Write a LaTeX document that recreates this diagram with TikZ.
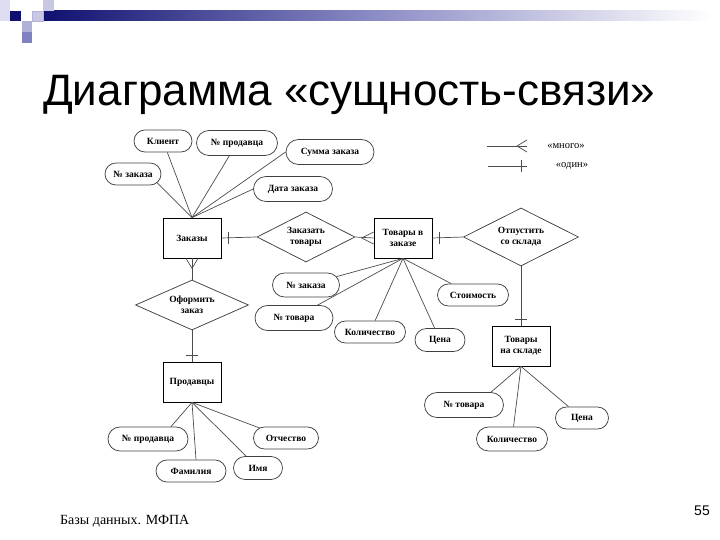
\documentclass[tikz,border=0pt]{standalone}
\usepackage{fontspec}
\setmainfont{Liberation Serif}
\newfontfamily\arialf{Liberation Sans}
\usetikzlibrary{shapes.geometric,shapes.misc}
\definecolor{navy}{RGB}{16,16,112}
\definecolor{lav1}{RGB}{176,176,216}
\definecolor{lav2}{RGB}{128,128,192}
\definecolor{lav3}{RGB}{200,200,228}
\definecolor{lav4}{RGB}{222,222,240}
\begin{document}
\begin{tikzpicture}[x=1pt,y=-1pt,
  lbl/.style={font=\bfseries\fontsize{9.5}{11}\selectfont},
  ent/.style={lbl,draw=black,line width=0.75pt,minimum width=58pt,minimum height=40pt,inner sep=1pt,align=center},
  attr/.style={lbl,rounded rectangle,draw=black!75,line width=0.75pt,minimum height=23pt,inner sep=1pt},
  rel/.style={lbl,diamond,draw=black!75,line width=0.75pt,inner sep=0pt,aspect=2,align=center},
  conn/.style={draw=black!70,line width=0.7pt}
]
\useasboundingbox (0,0) rectangle (720,540);
% header decoration
\shade[left color=navy,right color=white,middle color=lav2!90] (43,11) rectangle (712,21);
\fill[lav4] (0,0) rectangle (10,21);
\fill[navy] (10,11) rectangle (21,21);
\fill[white] (21,0) rectangle (32,11);
\fill[lav3,draw=lav2!60] (32,11) rectangle (43,21);
\fill[lav3] (43,0) rectangle (54,11);
\fill[lav1] (22,21) rectangle (32,32);
\fill[lav2] (22,32) rectangle (32,43);
% title
\node[anchor=base west,inner sep=0pt,font=\arialf\fontsize{44}{50}\selectfont] (title) at (43,106) {Диаграмма «сущность-связи»};
% footer
\node[anchor=base west,inner sep=0pt,font=\fontsize{14}{16}\selectfont] (foot) at (60,524) {Базы данных. МФПА};
\node[anchor=base east,inner sep=0pt,font=\arialf\fontsize{14}{16}\selectfont] (pnum) at (710,515) {55};

% entities
\node[ent] (zak) at (192,238) {Заказы};
\node[ent] (tvz) at (403,238) {Товары в\\заказе};
\node[ent] (prod) at (192,382) {Продавцы};
\node[ent] (tns) at (521,346) {Товары\\на складе};

% relationships
\node[rel,minimum width=98pt,minimum height=50pt] (zt) at (306,237) {Заказать\\товары};
\node[rel,minimum width=115pt,minimum height=58pt] (os) at (521,237) {Отпустить\\со склада};
\node[rel,minimum width=113pt,minimum height=50pt] (oz) at (192,305) {Оформить\\заказ};

% attributes
\node[attr,minimum width=60pt,minimum height=22pt] (klient) at (163,141) {Клиент};
\node[attr,minimum width=83pt,minimum height=25pt] (np1) at (237,143) {№ продавца};
\node[attr,minimum width=90pt,minimum height=25pt] (summa) at (330,152) {Сумма заказа};
\node[attr,minimum width=58pt,minimum height=22pt] (nz1) at (133,174) {№ заказа};
\node[attr,minimum width=81pt,minimum height=25pt] (data) at (293,189) {Дата заказа};
\node[attr,minimum width=69pt,minimum height=24pt] (nz2) at (306,285) {№ заказа};
\node[attr,minimum width=80pt,minimum height=25pt] (nt2) at (294,318) {№ товара};
\node[attr,minimum width=73pt,minimum height=22pt] (kol2) at (370,332) {Количество};
\node[attr,minimum width=52pt,minimum height=23pt] (cena2) at (440,340) {Цена};
\node[attr,minimum width=73pt,minimum height=22pt] (stoim) at (473,295) {Стоимость};
\node[attr,minimum width=81pt,minimum height=25pt] (nt3) at (464,405) {№ товара};
\node[attr,minimum width=55pt,minimum height=22pt] (cena3) at (582,418) {Цена};
\node[attr,minimum width=73pt,minimum height=24pt] (kol3) at (512,439) {Количество};
\node[attr,minimum width=82pt,minimum height=24pt] (np2) at (148,439) {№ продавца};
\node[attr,minimum width=67pt,minimum height=22pt] (otch) at (286,438) {Отчество};
\node[attr,minimum width=72pt,minimum height=22pt] (fam) at (191,471) {Фамилия};
\node[attr,minimum width=51pt,minimum height=23pt] (imya) at (258,468) {Имя};

% attribute links
\draw[conn] (zak.north) -- (klient);
\draw[conn] (zak.north) -- (np1);
\draw[conn] (zak.north) -- (summa.west);
\draw[conn] (zak.north) -- (nz1.-20);
\draw[conn] (zak.north) -- (data.west);
\draw[conn] (tvz.south) -- (nz2);
\draw[conn] (tvz.south) -- (nt2);
\draw[conn] (tvz.south) -- (kol2);
\draw[conn] (tvz.south) -- (cena2);
\draw[conn] (tvz.south) -- (stoim);
\draw[conn] (tns.south) -- (nt3.north east);
\draw[conn] (tns.south) -- (kol3);
\draw[conn] (tns.south) -- (cena3);
\draw[conn] (prod.south) -- ([xshift=-5pt]np2.north east);
\draw[conn] (prod.south) -- ([xshift=5pt]fam.north);
\draw[conn] (prod.south) -- (imya);
\draw[conn] (prod.south) -- (otch);

% relationship links
\draw[conn] (zak.east) -- (zt.west);
\draw[conn] ([xshift=7pt,yshift=6pt]zak.east) -- ([xshift=7pt,yshift=-6pt]zak.east);
\draw[conn] (zt.east) -- (tvz.west);
\draw[conn] ([xshift=-12pt]tvz.west) -- ([yshift=6pt]tvz.west);
\draw[conn] ([xshift=-12pt]tvz.west) -- ([yshift=-6pt]tvz.west);
\draw[conn] (tvz.east) -- (os.west);
\draw[conn] ([xshift=7pt,yshift=6pt]tvz.east) -- ([xshift=7pt,yshift=-6pt]tvz.east);
\draw[conn] (os.south) -- (tns.north);
\draw[conn] ([xshift=-6pt,yshift=6pt]tns.north) -- ([xshift=6pt,yshift=6pt]tns.north);
\draw[conn] (zak.south) -- (oz.north);
\draw[conn] ([yshift=-10pt]zak.south) -- ([xshift=-6pt]zak.south);
\draw[conn] ([yshift=-10pt]zak.south) -- ([xshift=6pt]zak.south);
\draw[conn] (oz.south) -- (prod.north);
\draw[conn] ([xshift=-6pt,yshift=6pt]prod.north) -- ([xshift=6pt,yshift=6pt]prod.north);

% legend
\coordinate (m1) at (487,146); \coordinate (m2) at (527,146); \coordinate (mf) at (517,146);
\draw[conn] (m1) -- (m2);
\draw[conn] (mf) -- (527,140);
\draw[conn] (mf) -- (527,152);
\node[font=\fontsize{10.5}{12}\selectfont] (many) at (566,146) {«много»};
\coordinate (o1) at (488,166); \coordinate (o2) at (527,166);
\draw[conn] (o1) -- (o2);
\draw[conn] (521,160) -- (521,172);
\node[font=\fontsize{10.5}{12}\selectfont] (one) at (572,166) {«один»};
\end{tikzpicture}
\end{document}
